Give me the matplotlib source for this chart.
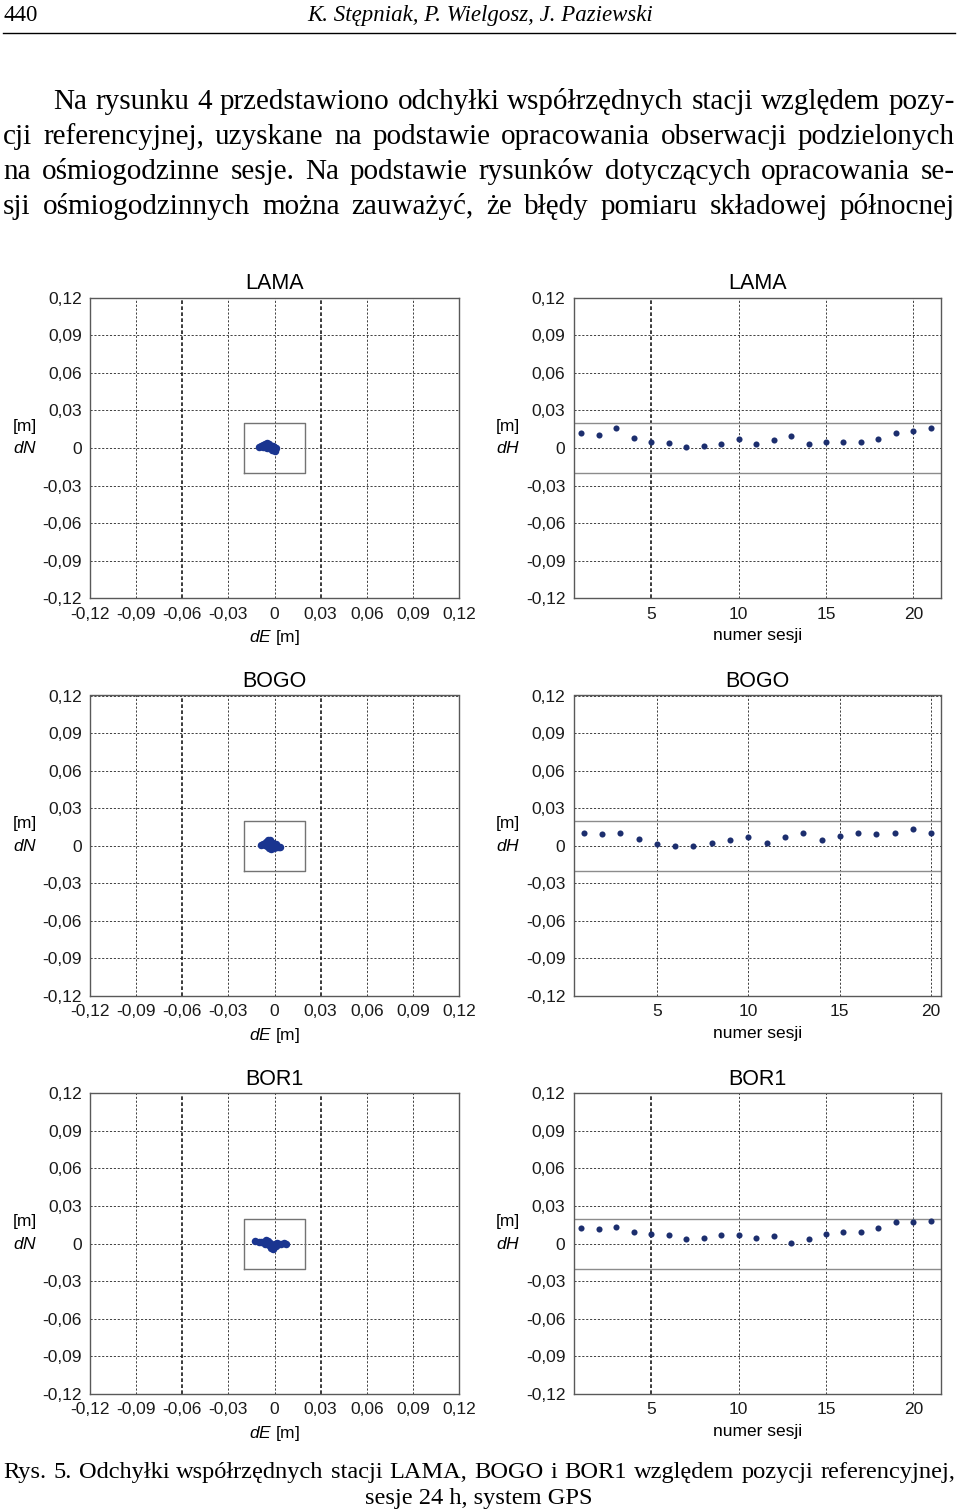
import matplotlib
matplotlib.use("Agg")
import matplotlib.pyplot as plt
from matplotlib.lines import Line2D
import matplotlib.transforms as mtransforms

# --- data read from the page ---
stations = ["LAMA", "BOGO", "BOR1"]

lama_de = [-0.0100, -0.0087, -0.0072, -0.0059, -0.0046, -0.0035, -0.0061, -0.0048, -0.0035, -0.0024, -0.0013,
           -0.0002, 0.0004, -0.0007, -0.0017, 0.0000, -0.0028, -0.0039, -0.0076, -0.0011, 0.0011]
lama_dn = [0.0011, 0.0016, 0.0021, 0.0032, 0.0040, 0.0035, 0.0005, 0.0000, -0.0003, 0.0005, 0.0016,
           0.0005, -0.0008, -0.0016, -0.0013, -0.0024, 0.0011, 0.0019, 0.0008, -0.0003, 0.0000]
lama_dh = [0.0116, 0.0105, 0.0160, 0.0083, 0.0047, 0.0039, 0.0006, 0.0017, 0.0028, 0.0072, 0.0028,
           0.0060, 0.0096, 0.0028, 0.0047, 0.0047, 0.0047, 0.0072, 0.0116, 0.0138, 0.0160]

bogo_de = [-0.0087, -0.0072, -0.0057, -0.0043, -0.0030, -0.0037, -0.0050, -0.0035, -0.0022, -0.0011,
           -0.0017, -0.0007, 0.0004, 0.0015, 0.0028, 0.0039, -0.0024, -0.0002, -0.0063, 0.0011]
bogo_dn = [0.0008, 0.0013, 0.0027, 0.0043, 0.0048, 0.0021, 0.0000, -0.0019, -0.0029, -0.0013,
           0.0005, 0.0019, 0.0005, -0.0011, -0.0008, -0.0011, -0.0003, -0.0021, 0.0005, 0.0011]
bogo_dh = [0.0102, 0.0091, 0.0102, 0.0055, 0.0014, 0.0000, 0.0000, 0.0022, 0.0044, 0.0066,
           0.0022, 0.0066, 0.0102, 0.0044, 0.0077, 0.0102, 0.0091, 0.0102, 0.0132, 0.0102]

bor1_de = [-0.0130, -0.0100, -0.0085, -0.0072, -0.0057, -0.0043, -0.0050, -0.0035, -0.0024, -0.0013, -0.0002,
           -0.0011, 0.0004, 0.0015, 0.0028, 0.0041, 0.0059, 0.0072, -0.0028, -0.0065, 0.0011]
bor1_dn = [0.0024, 0.0013, 0.0011, 0.0016, 0.0027, 0.0024, 0.0000, -0.0013, -0.0035, -0.0043, -0.0027,
           -0.0008, 0.0000, 0.0008, 0.0000, -0.0003, 0.0005, -0.0003, 0.0005, -0.0005, -0.0016]
bor1_dh = [0.0124, 0.0116, 0.0135, 0.0091, 0.0080, 0.0069, 0.0036, 0.0047, 0.0069, 0.0069, 0.0047,
           0.0058, 0.0003, 0.0036, 0.0080, 0.0091, 0.0091, 0.0124, 0.0171, 0.0171, 0.0182]

de_all = [lama_de, bogo_de, bor1_de]
dn_all = [lama_dn, bogo_dn, bor1_dn]
dh_all = [lama_dh, bogo_dh, bor1_dh]

ticks = [-0.12, -0.09, -0.06, -0.03, 0, 0.03, 0.06, 0.09, 0.12]
tick_labels = ["-0,12", "-0,09", "-0,06", "-0,03", "0", "0,03", "0,06", "0,09", "0,12"]
sess_ticks = [5, 10, 15, 20]
band = 0.02

header_page = "440"
header_authors = "K. Stępniak, P. Wielgosz, J. Paziewski"
para_lines = [
    "Na rysunku 4 przedstawiono odchyłki współrzędnych stacji względem pozy-",
    "cji referencyjnej, uzyskane na podstawie opracowania obserwacji podzielonych",
    "na ośmiogodzinne sesje. Na podstawie rysunków dotyczących opracowania se-",
    "sji ośmiogodzinnych można zauważyć, że błędy pomiaru składowej północnej",
]
caption_1 = "Rys. 5. Odchyłki współrzędnych stacji LAMA, BOGO i BOR1 względem pozycji referencyjnej,"
caption_2 = "sesje 24 h, system GPS"

W, H = 960, 1512
plt.rcParams["font.family"] = ["Liberation Sans", "DejaVu Sans"]
plt.rcParams["mathtext.fontset"] = "custom"
plt.rcParams["mathtext.it"] = "Liberation Sans:italic"
plt.rcParams["mathtext.rm"] = "Liberation Sans"

fig = plt.figure(figsize=(W / 100, H / 100), dpi=100)
fig.patch.set_facecolor("white")
serif = ["Liberation Serif", "DejaVu Serif"]


def fx(px):
    return px / W


def fy(py):
    return 1 - py / H


def justify(text, x0, x1, base, size, style="normal"):
    words = text.split()
    r = fig.canvas.get_renderer()
    arts = [fig.text(0, fy(base), w, fontsize=size, family=serif, style=style,
                     va="baseline", ha="left") for w in words]
    widths = [a.get_window_extent(r).width for a in arts]
    gap = ((x1 - x0) - sum(widths)) / (len(words) - 1)
    x = x0
    for a, w in zip(arts, widths):
        a.set_x(fx(x))
        x += w + gap


grid_kw = dict(color="0.25", linestyle=(0, (2.2, 1.8)), linewidth=0.7)
heavy_kw = dict(color="0.1", linestyle=(0, (2.2, 1.4)), linewidth=1.2)


def style_axes(ax):
    for s in ax.spines.values():
        s.set_color("0.35")
        s.set_linewidth(1.0)
    ax.set_ylim(-0.12, 0.12)
    ax.set_yticks(ticks)
    ax.set_yticklabels(tick_labels)
    ax.tick_params(axis="both", labelsize=12.5, length=0, pad=6, colors="0.1")
    for t in ticks:
        ax.axhline(t, zorder=1, **grid_kw)


row_tops = [297.7, 695.5, 1093.3]
ax_h = 300.5
for i, name in enumerate(stations):
    top = row_tops[i]
    # dN vs dE
    axl = fig.add_axes([fx(90), fy(top + ax_h), fx(369), ax_h / H])
    style_axes(axl)
    axl.set_xlim(-0.12, 0.12)
    axl.set_xticks(ticks)
    axl.set_xticklabels(tick_labels)
    for t in ticks:
        if t in (-0.06, 0.03):
            axl.axvline(t, zorder=1, **heavy_kw)
        else:
            axl.axvline(t, zorder=1, **grid_kw)
    axl.plot([-band, band, band, -band, -band], [-band, -band, band, band, -band],
             color="0.45", linewidth=1.0, zorder=2)
    axl.plot(de_all[i], dn_all[i], "o", color="#1a3590", markersize=5.4,
             markeredgewidth=0, zorder=3)
    axl.set_title(name, fontsize=15.5, pad=6)
    axl.set_xlabel("$dE$ [m]", fontsize=12.5, labelpad=5)
    tr = mtransforms.blended_transform_factory(axl.transAxes, axl.transData)
    axl.text(-0.176, 0.0175, "[m]", transform=tr, ha="center", va="center", fontsize=12.5)
    axl.text(-0.176, 0.0, "$dN$", transform=tr, ha="center", va="center", fontsize=12.5)

    # dH vs session
    axr = fig.add_axes([fx(573.7), fy(top + ax_h), fx(367.6), ax_h / H])
    style_axes(axr)
    n = len(dh_all[i])
    sess = list(range(1, n + 1))
    if n == 21:
        axr.set_xlim(0.56, 21.6)
    else:
        axr.set_xlim(0.45, 20.55)
    axr.set_xticks(sess_ticks)
    axr.set_xticklabels([str(s) for s in sess_ticks])
    for t in sess_ticks:
        if t == 5 and n == 21:
            axr.axvline(t, zorder=1, **heavy_kw)
        else:
            axr.axvline(t, zorder=1, **grid_kw)
    axr.axhline(band, color="0.55", linewidth=1.0, zorder=2)
    axr.axhline(-band, color="0.55", linewidth=1.0, zorder=2)
    axr.plot(sess, dh_all[i], "o", color="#1c2e6e", markersize=4.4,
             markeredgewidth=0, zorder=3)
    axr.set_title(name, fontsize=15.5, pad=6)
    axr.set_xlabel("numer sesji", fontsize=12.5, labelpad=5)
    tr = mtransforms.blended_transform_factory(axr.transAxes, axr.transData)
    axr.text(-0.179, 0.0175, "[m]", transform=tr, ha="center", va="center", fontsize=12.5)
    axr.text(-0.179, 0.0, "$dH$", transform=tr, ha="center", va="center", fontsize=12.5)

# page header
fig.text(fx(3), fy(21), header_page, fontsize=16.5, family=serif, va="baseline", ha="left")
fig.text(fx(480), fy(21), header_authors, fontsize=16.5, family=serif, style="italic",
         va="baseline", ha="center")
fig.add_artist(Line2D([fx(3), fx(955)], [fy(33), fy(33)], color="black", linewidth=1.0))

# paragraph
bases = [109, 144, 179, 214]
for k, line in enumerate(para_lines):
    justify(line, 53 if k == 0 else 3, 955, bases[k], 21)

# caption
justify(caption_1, 3, 955, 1478, 17.6)
fig.text(fx(479), fy(1504), caption_2, fontsize=17.6, family=serif, va="baseline", ha="center")

fig.savefig("out.png", dpi=100, facecolor="white")
